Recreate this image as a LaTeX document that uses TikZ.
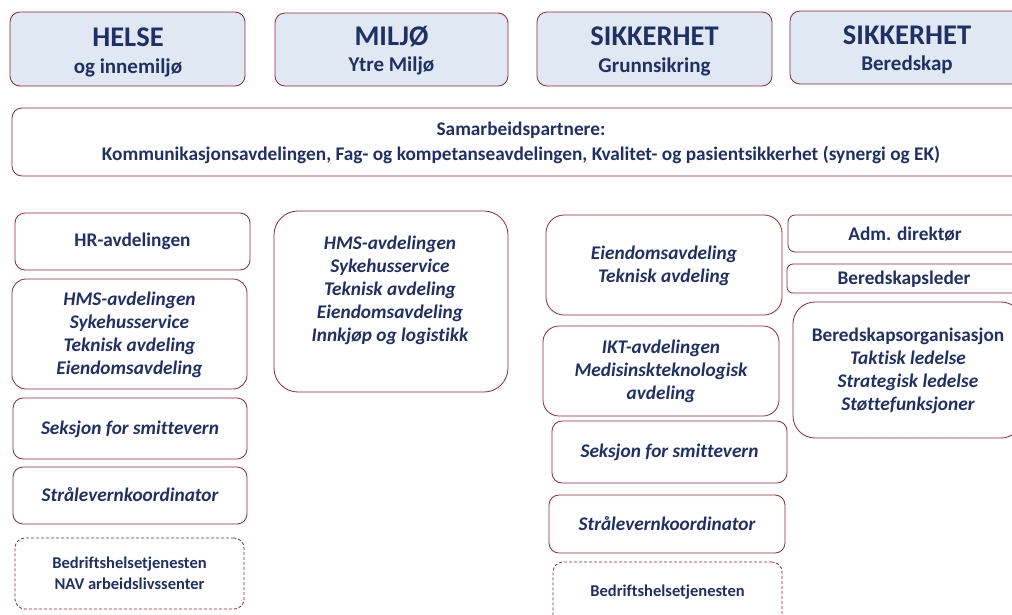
\documentclass[tikz,border=0pt]{standalone}
\usepackage{fontspec}
\setmainfont[Ligatures=NoCommon]{Carlito}
\definecolor{navy}{HTML}{1F3067}
\definecolor{edge}{HTML}{8C2837}
\definecolor{headfill}{HTML}{E0E8F4}
\begin{document}
\begin{tikzpicture}[x=1pt,y=-1pt,
  every node/.style={inner sep=0pt,outer sep=0pt,text=navy,font=\bfseries,align=center},
  box/.style={draw=edge,line width=0.8pt,rounded corners=10pt},
  head/.style={box,fill=headfill},
  dbox/.style={box,dashed,dash pattern=on 3pt off 2pt},
  big/.style={font=\fontsize{28.5}{30}\selectfont\bfseries},
  sub/.style={font=\fontsize{21}{24}\selectfont\bfseries},
  body/.style={font=\fontsize{19.3}{23}\selectfont\bfseries},
  ibody/.style={font=\fontsize{19.3}{23}\selectfont\bfseries\itshape},
  small/.style={font=\fontsize{16.5}{21}\selectfont\bfseries}]
\useasboundingbox (0,0) rectangle (1012,614);
\clip (0,0) rectangle (1012,614);
% headers
\node[head,minimum width=235,minimum height=74] (h1) at (127.5,49) {};
\node[big] (h1a) at (128,37) {HELSE};
\node[sub] (h1b) at (128,68) {og innemiljø};
\node[head,minimum width=233,minimum height=73] (h2) at (391.5,49.5) {};
\node[big] (h2a) at (391.5,37) {MILJØ};
\node[sub] (h2b) at (391.5,66) {Ytre Miljø};
\node[head,minimum width=235,minimum height=74] (h3) at (654.5,49) {};
\node[big] (h3a) at (654.5,36) {SIKKERHET};
\node[sub] (h3b) at (654.5,67) {Grunnsikring};
\node[head,minimum width=234,minimum height=73] (h4) at (907,47.5) {};
\node[big] (h4a) at (907,35) {SIKKERHET};
\node[sub] (h4b) at (907,65) {Beredskap};
% partners
\node[box,minimum width=1018,minimum height=68] (sam) at (521,142) {};
\node[body,font=\fontsize{19.3}{25}\selectfont\bfseries] (samt) at (521,142.5) {Samarbeidspartnere:\\Kommunikasjonsavdelingen, Fag- og kompetanseavdelingen, Kvalitet- og pasientsikkerhet (synergi og EK)};
% left column
\node[box,minimum width=235,minimum height=57] (hr) at (132.5,241.5) {};
\node[body] (hrt) at (132.5,241) {HR-avdelingen};
\node[box,rounded corners=14pt,minimum width=235,minimum height=110] (hmsl) at (129.5,334) {};
\node[ibody] (hmslt) at (129.5,334.5) {HMS-avdelingen\\Sykehusservice\\Teknisk avdeling\\Eiendomsavdeling};
\node[box,minimum width=234,minimum height=61] (sekl) at (130,428.5) {};
\node[ibody] (seklt) at (130,429) {Seksjon for smittevern};
\node[box,minimum width=234,minimum height=57] (strl) at (130,495.5) {};
\node[ibody] (strlt) at (130,495) {Strålevernkoordinator};
\node[dbox,minimum width=229,minimum height=71] (bedl) at (129.5,573.5) {};
\node[small] (bedlt) at (129.5,573.5) {Bedriftshelsetjenesten\\NAV arbeidslivssenter};
% middle
\node[box,rounded corners=24pt,minimum width=234,minimum height=181] (hmsm) at (391,301.5) {};
\node[ibody] (hmsmt) at (390,290.5) {HMS-avdelingen\\Sykehusservice\\Teknisk avdeling\\Eiendomsavdeling\\Innkjøp og logistikk};
% right-middle
\node[box,rounded corners=18pt,minimum width=236,minimum height=100] (eie) at (664,265) {};
\node[ibody] (eiet) at (664,265.5) {Eiendomsavdeling\\Teknisk avdeling};
\node[box,rounded corners=16pt,minimum width=236,minimum height=90] (ikt) at (661,371) {};
\node[ibody] (iktt) at (661,371) {IKT-avdelingen\\Medisinskteknologisk\\avdeling};
\node[box,minimum width=235,minimum height=62] (sekr) at (669.5,452) {};
\node[ibody] (sekrt) at (669.5,452) {Seksjon for smittevern};
\node[box,minimum width=236,minimum height=58] (strr) at (667,524) {};
\node[ibody] (strrt) at (667,524) {Strålevernkoordinator};
\node[dbox,minimum width=229,minimum height=71] (bedr) at (667.5,597.5) {};
\node[small] (bedrt) at (667.5,592) {Bedriftshelsetjenesten};
% right column
\node[box,rounded corners=7pt,minimum width=234,minimum height=37] (adm) at (905,233.5) {};
\node[body] (admt) at (905,234) {Adm. direktør};
\node[box,rounded corners=6pt,minimum width=235,minimum height=29] (bl) at (904.5,278.5) {};
\node[body] (blt) at (904,279) {Beredskapsleder};
\node[box,rounded corners=22pt,minimum width=230,minimum height=136] (bo) at (908,370) {};
\node[ibody] (bot) at (908,370.5) {\upshape Beredskapsorganisasjon\\Taktisk ledelse\\Strategisk ledelse\\Støttefunksjoner};
\end{tikzpicture}
\end{document}
